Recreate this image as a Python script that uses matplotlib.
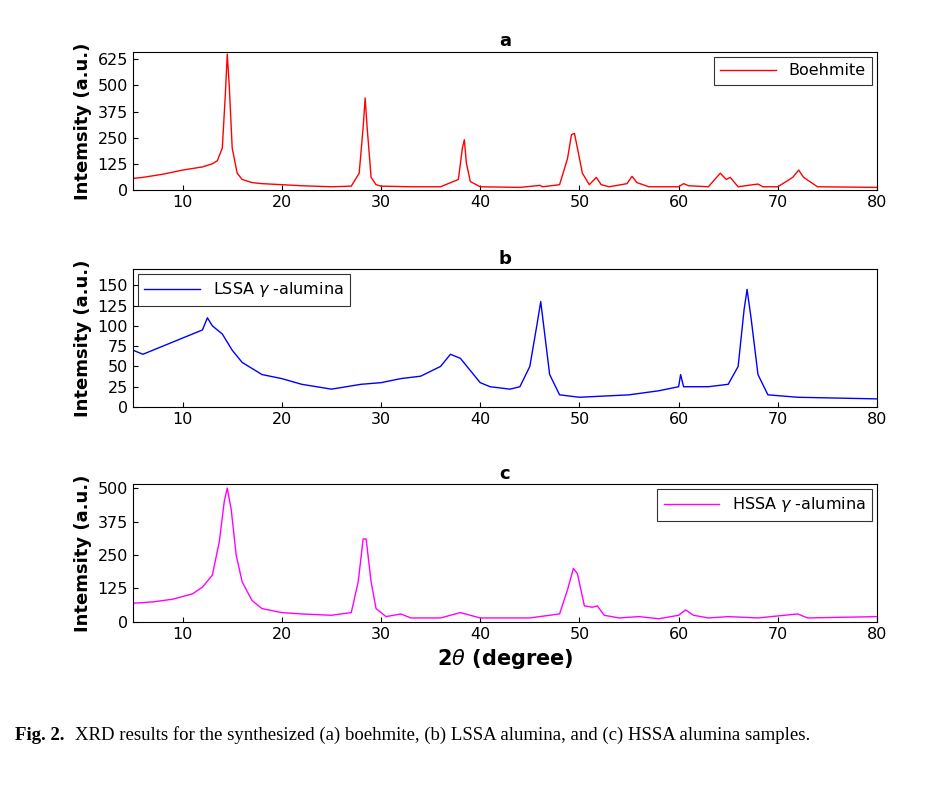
import matplotlib
matplotlib.use("Agg")
import matplotlib.pyplot as plt

boehmite = [(5,55),(6,60),(8,75),(10,95),(12,110),(13,125),(13.5,140),(14,200),(14.3,450),(14.5,650),(14.7,500),(15,200),(15.5,80),(16,50),(17,35),(18,30),(20,25),(22,20),(25,15),(27,18),(27.8,80),(28.2,300),(28.4,440),(28.6,300),(29,60),(29.5,25),(30,18),(33,15),(36,15),(37.8,50),(38.2,200),(38.4,240),(38.6,130),(39,40),(40,15),(44,12),(45.7,20),(46,22),(46.3,15),(48,25),(48.8,150),(49.2,265),(49.5,270),(49.8,200),(50.3,80),(51,25),(51.7,60),(52.2,25),(53,15),(54.8,30),(55.3,65),(55.8,35),(57,15),(60,15),(60.5,30),(61,20),(63,15),(64.2,80),(64.8,50),(65.2,60),(66,15),(67.5,25),(68,28),(68.5,15),(70,15),(71.5,60),(72.1,95),(72.6,60),(74,15),(80,12)]
lssa = [(5,70),(6,65),(8,75),(10,85),(12,95),(12.5,110),(13,100),(14,90),(15,70),(16,55),(18,40),(20,35),(22,28),(25,22),(28,28),(30,30),(32,35),(34,38),(36,50),(37,65),(38,60),(39,45),(40,30),(41,25),(43,22),(44,25),(45,50),(45.7,100),(46.1,130),(46.5,90),(47,40),(48,15),(50,12),(55,15),(58,20),(60,25),(60.2,40),(60.5,25),(63,25),(65,28),(66,50),(66.6,120),(66.9,145),(67.3,110),(68,40),(69,15),(72,12),(80,10)]
hssa = [(5,70),(7,75),(9,85),(11,105),(12,130),(13,175),(13.7,300),(14.2,450),(14.5,500),(14.9,420),(15.4,250),(16,150),(17,80),(18,50),(20,35),(22,30),(25,25),(27,35),(27.7,150),(28.2,310),(28.5,310),(29,150),(29.5,50),(30.5,20),(32,30),(33,15),(36,15),(38,35),(40,15),(45,15),(48,30),(48.8,120),(49.4,200),(49.8,180),(50.5,60),(51.3,55),(51.8,60),(52.5,25),(54,15),(56,20),(58,12),(60,25),(60.7,45),(61.5,25),(63,15),(65,20),(68,15),(72,30),(73,15),(80,20)]

panels = [
    ("a", boehmite, "red", "Boehmite", 660, [0,125,250,375,500,625], "upper right"),
    ("b", lssa, "blue", r"LSSA $\gamma$ -alumina", 170, [0,25,50,75,100,125,150], "upper left"),
    ("c", hssa, "magenta", r"HSSA $\gamma$ -alumina", 515, [0,125,250,375,500], "upper right"),
]
bottoms = [0.759, 0.4835, 0.2107]

fig = plt.figure(figsize=(9.4, 7.88), dpi=100)
for (title, data, col, lab, ymax, yt, loc), b in zip(panels, bottoms):
    ax = fig.add_axes([0.1415, b, 0.7915, 0.175])
    xs = [p[0] for p in data]
    ys = [p[1] for p in data]
    ax.plot(xs, ys, color=col, lw=1, label=lab)
    ax.set_xlim(5, 80)
    ax.set_ylim(0, ymax)
    ax.set_yticks(yt)
    ax.set_xticks(range(10, 81, 10))
    ax.tick_params(labelsize=11.5, direction="in", top=False, right=False)
    ax.set_title(title, fontweight="bold", fontsize=13, pad=4)
    ax.set_ylabel("Intemsity (a.u.)", fontweight="bold", fontsize=13)
    leg = ax.legend(loc=loc, fontsize=11.5, fancybox=False, edgecolor="black", handlelength=3.5, borderaxespad=0.3)
    leg.get_frame().set_linewidth(0.8)
    if title == "c":
        ax.set_xlabel(r"2$\theta$ (degree)", fontweight="bold", fontsize=15)

fig.text(0.016, 0.061, "Fig. 2.", fontweight="bold", family="Liberation Serif", fontsize=13.5)
fig.text(0.080, 0.061, "XRD results for the synthesized (a) boehmite, (b) LSSA alumina, and (c) HSSA alumina samples.",
         family="Liberation Serif", fontsize=13.5)
fig.savefig("out.png", dpi=100)
